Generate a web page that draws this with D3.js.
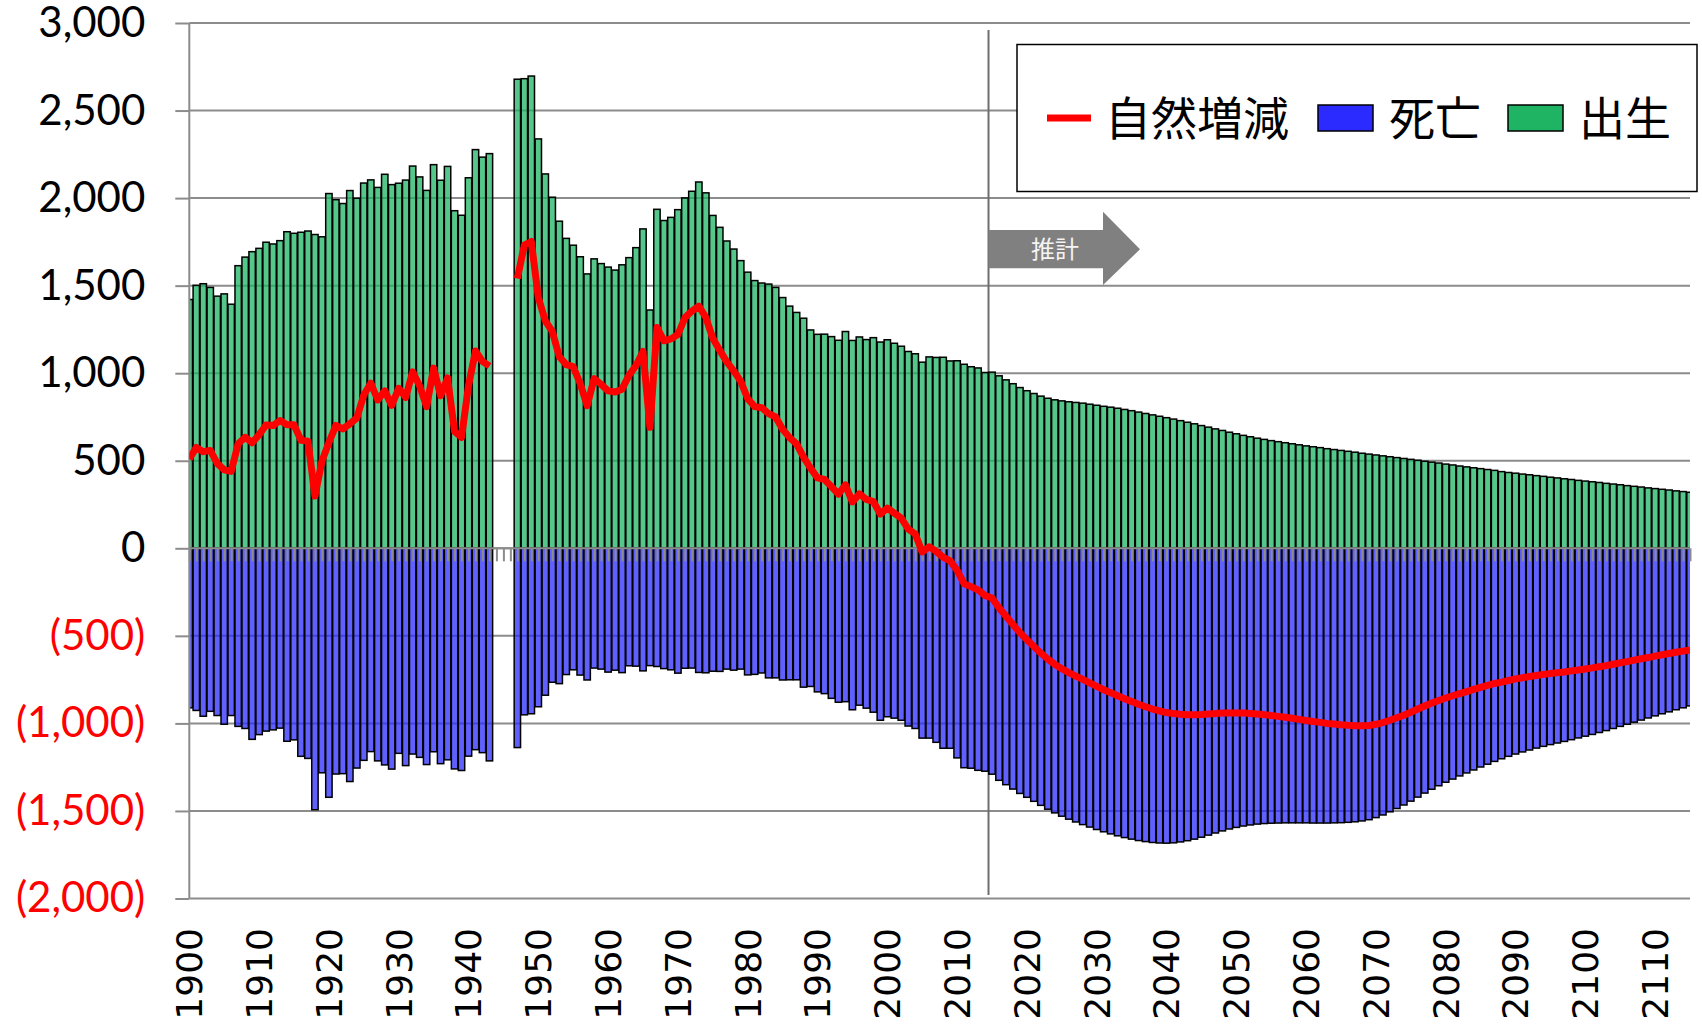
<!DOCTYPE html>
<html>
<head>
<meta charset="utf-8">
<script src="https://cdn.jsdelivr.net/npm/d3@7"></script>
<style>
  body { margin: 0; background: #fff; }
  svg { display: block; }
</style>
</head>
<body>
<svg id="chart" width="1702" height="1026"></svg>
<script>
// years 1900..2115 (thousands of persons); 1944-1946 have no data
var firstYear = 1900, lastYear = 2115;

var births = [
  1421, 1502, 1511, 1490, 1440, 1453, 1394, 1614, 1663, 1694,
  1713, 1748, 1738, 1757, 1808, 1799, 1805, 1812, 1792, 1779,
  2026, 1991, 1969, 2043, 1999, 2086, 2104, 2061, 2136, 2077,
  2085, 2103, 2183, 2121, 2044, 2191, 2102, 2181, 1928, 1902,
  2116, 2277, 2234, 2254, null, null, null, 2679, 2682, 2697,
  2338, 2138, 2005, 1868, 1770, 1731, 1665, 1567, 1653, 1626,
  1606, 1589, 1619, 1660, 1717, 1824, 1361, 1936, 1872, 1890,
  1934, 2001, 2039, 2092, 2030, 1901, 1833, 1755, 1709, 1643,
  1577, 1529, 1515, 1509, 1490, 1432, 1383, 1347, 1314, 1247,
  1222, 1223, 1209, 1188, 1238, 1187, 1207, 1192, 1203, 1178,
  1191, 1171, 1154, 1124, 1111, 1063, 1093, 1090, 1091, 1070,
  1071, 1051, 1037, 1030, 1004, 1006, 985, 962, 940, 918,
  900, 884, 869, 857, 848, 842, 837, 833, 829, 823,
  817, 811, 806, 800, 793, 786, 778, 770, 762, 754,
  746, 738, 729, 720, 711, 701, 692, 682, 673, 663,
  654, 645, 637, 629, 622, 615, 609, 603, 597, 591,
  585, 580, 575, 569, 564, 559, 554, 549, 543, 538,
  533, 528, 523, 518, 513, 508, 503, 497, 492, 487,
  481, 476, 470, 465, 460, 455, 450, 445, 438, 433,
  429, 424, 420, 415, 411, 406, 402, 397, 393, 388,
  384, 380, 376, 371, 367, 363, 358, 354, 350, 345,
  341, 337, 333, 328, 324, 320
];

var deaths = [
  911, 926, 959, 931, 955, 1005, 955, 1017, 1029, 1091,
  1064, 1044, 1037, 1027, 1102, 1094, 1188, 1200, 1493, 1282,
  1422, 1289, 1287, 1332, 1255, 1211, 1161, 1214, 1237, 1261,
  1171, 1241, 1175, 1194, 1235, 1162, 1230, 1208, 1260, 1269,
  1187, 1150, 1167, 1214, null, null, null, 1138, 951, 945,
  905, 839, 765, 773, 721, 694, 724, 752, 684, 690,
  707, 696, 710, 671, 673, 700, 670, 675, 687, 694,
  713, 685, 684, 709, 711, 702, 703, 690, 696, 690,
  723, 720, 712, 740, 740, 752, 751, 751, 793, 789,
  820, 830, 857, 879, 876, 922, 896, 913, 936, 982,
  962, 970, 982, 1015, 1029, 1084, 1084, 1108, 1142, 1142,
  1197, 1253, 1256, 1268, 1273, 1290, 1325, 1350, 1375, 1400,
  1422, 1445, 1468, 1490, 1511, 1530, 1547, 1563, 1578, 1592,
  1606, 1619, 1631, 1642, 1652, 1661, 1669, 1675, 1680, 1683,
  1684, 1682, 1677, 1670, 1661, 1650, 1638, 1626, 1614, 1603,
  1594, 1586, 1580, 1575, 1572, 1570, 1569, 1568, 1568, 1568,
  1568, 1569, 1569, 1569, 1568, 1567, 1565, 1562, 1557, 1550,
  1538, 1523, 1505, 1486, 1466, 1444, 1421, 1398, 1376, 1356,
  1336, 1318, 1300, 1283, 1266, 1249, 1233, 1217, 1202, 1188,
  1175, 1163, 1152, 1141, 1131, 1121, 1112, 1103, 1093, 1083,
  1073, 1063, 1052, 1041, 1029, 1017, 1005, 993, 981, 969,
  957, 945, 934, 922, 911, 900
];

var yTicks = [-2000, -1500, -1000, -500, 0, 500, 1000, 1500, 2000, 2500, 3000];
var xLabelYears = [1900, 1910, 1920, 1930, 1940, 1950, 1960, 1970, 1980, 1990, 2000,
                   2010, 2020, 2030, 2040, 2050, 2060, 2070, 2080, 2090, 2100, 2110];
var projectionStart = 2015;
var legendItems = [
  {label: "自然増減", kind: "line", color: "#ff0000"},
  {label: "死亡", kind: "rect", color: "#2b2bff"},
  {label: "出生", kind: "rect", color: "#1eb463"}
];

var years = d3.range(firstYear, lastYear + 1);
var rows = years.map(function(yr, i) {
  return {year: yr, b: births[i], d: deaths[i]};
});

var LEFT = 189.3, RIGHT = 1690, TOP = 23, BOTTOM = 898.5;
var GRID = "#8c8c8c";

var svg = d3.select("#chart");
svg.append("rect").attr("width", 1702).attr("height", 1026).attr("fill", "#fff");

var x = d3.scalePoint().domain(years).range([LEFT, RIGHT]);
var step = x.step();
var y = d3.scaleLinear().domain([-2000, 3000]).range([BOTTOM, TOP]);

svg.append("clipPath").attr("id", "plotclip")
  .append("rect").attr("x", LEFT).attr("y", 0).attr("width", RIGHT - LEFT).attr("height", 1026);

// horizontal gridlines
svg.append("g").selectAll("line").data(yTicks).enter().append("line")
  .attr("x1", LEFT).attr("x2", RIGHT)
  .attr("y1", function(d) { return y(d); }).attr("y2", function(d) { return y(d); })
  .style("stroke", GRID).style("stroke-width", 2);

// projection divider
var xDiv = x(projectionStart) - step / 2;
svg.append("line")
  .attr("x1", xDiv).attr("x2", xDiv).attr("y1", 30).attr("y2", 895)
  .style("stroke", "#6e6e6e").style("stroke-width", 2);

// bars
var gBars = svg.append("g").attr("clip-path", "url(#plotclip)");
var valid = rows.filter(function(d) { return d.b != null; });

gBars.selectAll("rect.birth").data(valid).enter().append("rect")
  .attr("class", "birth")
  .attr("x", function(d) { return x(d.year) - step / 2 + 0.3; })
  .attr("width", step - 0.6)
  .attr("y", function(d) { return y(d.b); })
  .attr("height", function(d) { return y(0) - y(d.b); })
  .style("fill", "#1eb463").style("fill-opacity", 0.75)
  .style("stroke", "#000").style("stroke-width", 1.5);

gBars.selectAll("rect.death").data(valid).enter().append("rect")
  .attr("class", "death")
  .attr("x", function(d) { return x(d.year) - step / 2 + 0.3; })
  .attr("width", step - 0.6)
  .attr("y", y(0))
  .attr("height", function(d) { return y(-d.d) - y(0); })
  .style("fill", "#2b2bff").style("fill-opacity", 0.75)
  .style("stroke", "#000").style("stroke-width", 1.5);

// category axis along zero: a tick at every year
var xAxis = d3.axisBottom(x).tickSize(13).tickFormat("");
var gx = svg.append("g").attr("transform", "translate(0," + y(0) + ")").call(xAxis);
gx.select(".domain").remove();
gx.selectAll(".tick line").style("stroke", GRID).style("stroke-width", 2);
svg.append("line").attr("x1", LEFT).attr("x2", RIGHT).attr("y1", y(0)).attr("y2", y(0))
  .style("stroke", GRID).style("stroke-width", 2);

// value axis
var fmt = d3.format(",");
var yAxis = d3.axisLeft(y).tickValues(yTicks).tickSize(14).tickPadding(30)
  .tickFormat(function(v) { return v < 0 ? "(" + fmt(-v) + ")" : fmt(v); });
var gy = svg.append("g").attr("transform", "translate(" + LEFT + ",0)").call(yAxis);
gy.select(".domain").remove();
gy.selectAll(".tick line").style("stroke", GRID).style("stroke-width", 2);
gy.selectAll(".tick text")
  .style("font-family", "Lato, 'Open Sans', sans-serif")
  .style("font-size", "42px")
  .style("fill", function(v) { return v < 0 ? "#ff0000" : "#000"; });
svg.append("line").attr("x1", LEFT).attr("x2", LEFT).attr("y1", TOP).attr("y2", BOTTOM)
  .style("stroke", GRID).style("stroke-width", 2);

// decade labels, rotated
svg.append("g").selectAll("text").data(xLabelYears).enter().append("text")
  .attr("transform", function(d) { return "translate(" + x(d) + ",928) rotate(-90)"; })
  .attr("dy", "0.36em")
  .attr("text-anchor", "end")
  .style("font-family", "'DejaVu Sans', sans-serif")
  .style("font-size", "36px")
  .style("fill", "#000")
  .text(function(d) { return d; });

// natural increase line
var line = d3.line()
  .defined(function(d) { return d.b != null; })
  .x(function(d) { return x(d.year); })
  .y(function(d) { return y(d.b - d.d); });
svg.append("path").datum(rows)
  .attr("clip-path", "url(#plotclip)")
  .attr("d", line)
  .style("fill", "none").style("stroke", "#ff0000")
  .style("stroke-width", 7).style("stroke-linejoin", "round");

// 推計 arrow
var ay = 249.3;
svg.append("polygon")
  .attr("points", [[xDiv, 230], [1103, 230], [1103, 211.7], [1140, ay], [1103, 285], [1103, 268.3], [xDiv, 268.3]]
    .map(function(p) { return p.join(","); }).join(" "))
  .style("fill", "#808080");
svg.append("text").attr("x", 1055).attr("y", ay).attr("dy", "0.36em")
  .attr("text-anchor", "middle")
  .style("font-family", "'Noto Sans CJK JP', sans-serif").style("font-size", "24px")
  .style("fill", "#f4f4f4").text("推計");

// legend
var lg = svg.append("g");
lg.append("rect").attr("x", 1017).attr("y", 44.5).attr("width", 680).attr("height", 147)
  .style("fill", "#fff").style("stroke", "#000").style("stroke-width", 1.5);
var legX = [1047, 1318, 1508];
var legY = 118;
legendItems.forEach(function(it, i) {
  var x0 = legX[i], tx;
  if (it.kind === "line") {
    lg.append("line").attr("x1", x0).attr("x2", x0 + 44).attr("y1", legY).attr("y2", legY)
      .style("stroke", it.color).style("stroke-width", 7);
    tx = x0 + 58;
  } else {
    lg.append("rect").attr("x", x0).attr("y", legY - 13).attr("width", 55).attr("height", 26)
      .style("fill", it.color).style("stroke", "#000").style("stroke-width", 1.5);
    tx = x0 + 71;
  }
  lg.append("text").attr("x", tx).attr("y", legY).attr("dy", "0.36em")
    .style("font-family", "'Noto Sans CJK JP', sans-serif").style("font-size", "46px")
    .style("fill", "#000").text(it.label);
});
</script>
</body>
</html>
